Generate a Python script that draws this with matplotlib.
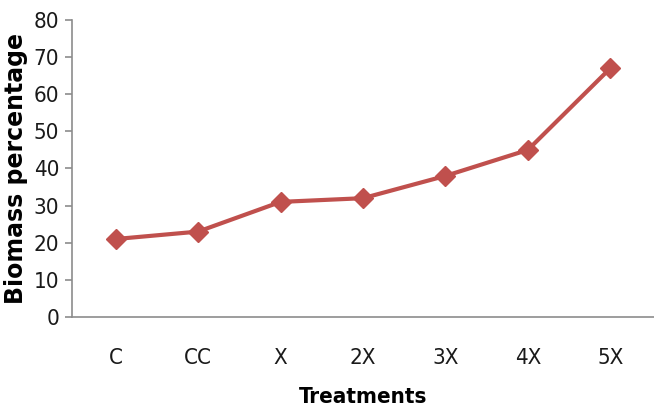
import matplotlib
matplotlib.use("Agg")
import matplotlib.pyplot as plt
from matplotlib import font_manager

treatments = ["C", "CC", "X", "2X", "3X", "4X", "5X"]
biomass = [21, 23, 31, 32, 38, 45, 67]
y_ticks = [0, 10, 20, 30, 40, 50, 60, 70, 80]

names = {f.name for f in font_manager.fontManager.ttflist}
narrow = "Liberation Sans Narrow" if "Liberation Sans Narrow" in names else "DejaVu Sans"

fig = plt.figure(figsize=(6.54, 4.12), dpi=100)
ax = fig.add_axes([0.110, 0.2306, 0.890, 0.7209])

red = "#C0504D"
x = list(range(len(treatments)))
ax.plot(x, biomass, color=red, linewidth=3.0, marker="D", markersize=10,
        markerfacecolor=red, markeredgecolor=red, solid_capstyle="round")

ax.set_xlim(-0.53, len(treatments) - 0.47)
ax.set_ylim(0, 80)
ax.set_yticks(y_ticks)
ax.set_xticks(x)
ax.set_xticklabels(treatments)

for s in ["top", "right"]:
    ax.spines[s].set_visible(False)
for s in ["left", "bottom"]:
    ax.spines[s].set_color("#8c8c8c")
    ax.spines[s].set_linewidth(1.2)

ax.tick_params(axis="y", direction="out", length=5, color="#8c8c8c", width=1.2,
               pad=4, labelsize=16)
ax.tick_params(axis="x", length=0, pad=22, labelsize=16)
for lab in ax.get_xticklabels() + ax.get_yticklabels():
    lab.set_fontfamily(narrow)
    lab.set_fontstretch("condensed")
    lab.set_fontweight("light")
    lab.set_color("#1a1a1a")

ax.set_xlabel("Treatments", fontsize=16, fontweight="bold", fontfamily=narrow,
              fontstretch="condensed", labelpad=14)
ax.set_ylabel("Biomass percentage", fontsize=17, fontweight="bold",
              fontfamily="DejaVu Sans", labelpad=4)

fig.savefig("out.png", dpi=100)
